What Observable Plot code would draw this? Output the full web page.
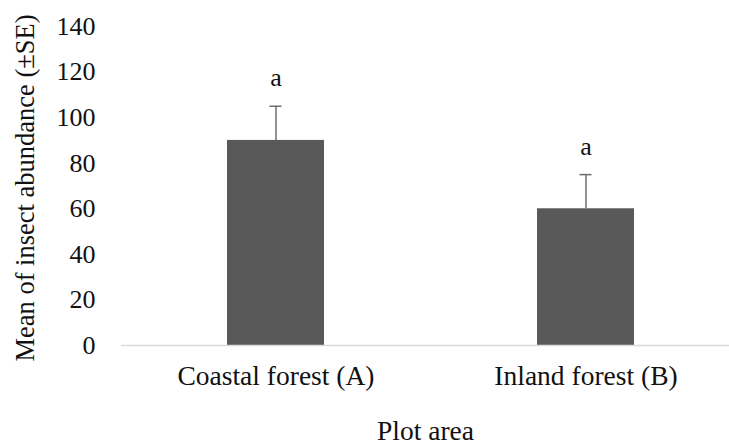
<!DOCTYPE html>
<html>
<head>
<meta charset="utf-8">
<script src="https://cdn.jsdelivr.net/npm/d3@7"></script>
<script src="https://cdn.jsdelivr.net/npm/@observablehq/plot@0.6"></script>
<style>
  html, body { margin: 0; padding: 0; background: #fff; }
  #chart svg { display: block; }
  #chart svg text { font-family: 'Liberation Serif', 'Times New Roman', serif !important; }
</style>
</head>
<body>
<div id="chart"></div>
<script>
const categories = ["Coastal forest (A)", "Inland forest (B)"];
const means = [90, 60];
const errors = [15, 15];
const letters = ["a", "a"];
const yTicks = [0, 20, 40, 60, 80, 100, 120, 140];

const data = categories.map((c, i) => ({cat: c, mean: means[i], se: errors[i], top: means[i] + errors[i], letter: letters[i]}));

const font = "Liberation Serif, Times New Roman, serif";
const textColor = "#111111";

const chart = Plot.plot({
  width: 729,
  height: 446,
  marginLeft: 121,
  marginRight: 0,
  marginTop: 26,
  marginBottom: 101,
  style: {fontFamily: font, fontSize: "26px", color: textColor, background: "#fff"},
  x: {domain: categories, range: [121, 741], paddingInner: 0.687, paddingOuter: 0.3435},
  y: {domain: [0, 140]},
  marks: [
    Plot.axisY({ticks: yTicks, tickSize: 0, tickPadding: 26, label: null, fontSize: 26, fontFamily: font, fill: textColor}),
    Plot.axisX({tickSize: 0, tickPadding: 20, label: null, fontSize: 27.5, fontFamily: font, fill: textColor}),
    Plot.barY(data, {x: "cat", y: "mean", fill: "#595959"}),
    Plot.ruleY([0], {stroke: "#d9d9d9", strokeWidth: 1.5}),
    Plot.ruleX(data, {x: "cat", y1: "mean", y2: "top", stroke: "#6e6e6e", strokeWidth: 1.5}),
    Plot.tickY(data, {x: "cat", y: "top", stroke: "#6e6e6e", strokeWidth: 1.5, insetLeft: 42.5, insetRight: 42.5}),
    Plot.text(data, {x: "cat", y: "top", text: "letter", dy: -20, lineAnchor: "bottom", fontSize: 26, fontFamily: font, fill: textColor}),
    Plot.text(["Plot area"], {frameAnchor: "bottom", dy: 94, fontSize: 27.5, fontFamily: font, fill: textColor}),
    Plot.text(["Mean of insect abundance (±SE)"], {frameAnchor: "left", textAnchor: "middle", dx: -96, dy: 2, rotate: -90, fontSize: 26.5, fontFamily: font, fill: textColor})
  ]
});
document.getElementById("chart").appendChild(chart);
</script>
</body>
</html>
